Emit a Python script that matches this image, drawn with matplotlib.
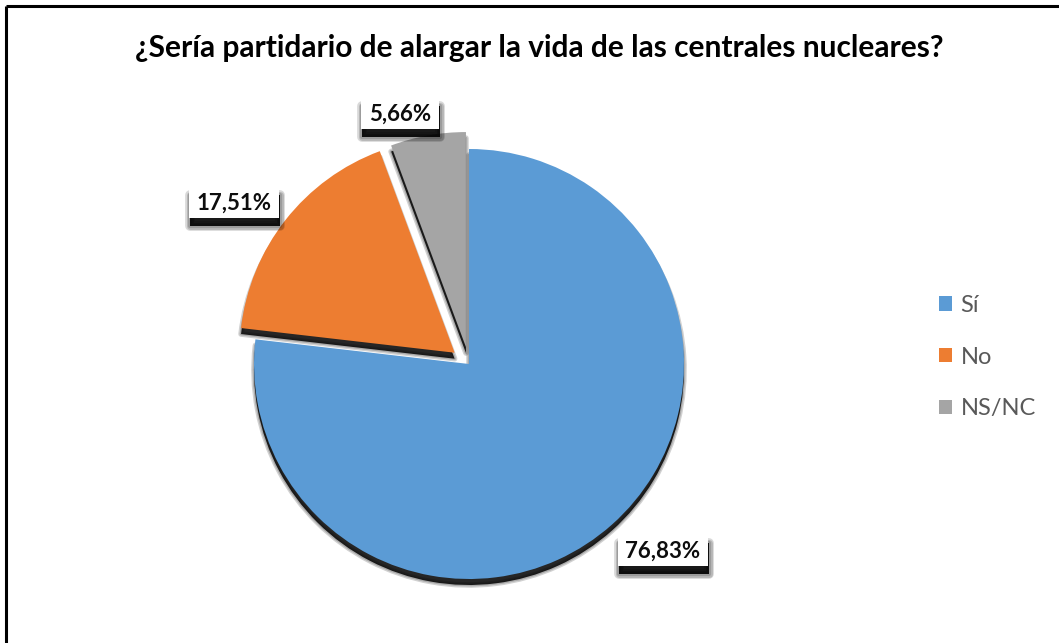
import matplotlib
matplotlib.use("Agg")
import matplotlib.pyplot as plt
from matplotlib.patches import PathPatch, Rectangle
from matplotlib.transforms import Affine2D
from matplotlib.lines import Line2D

# Survey answers
categories = ["Sí", "No", "NS/NC"]
shares = [76.83, 17.51, 5.66]
colors = ["#5B9BD5", "#ED7D31", "#A5A5A5"]
explode = [0.0, 0.085, 0.08]   # as a fraction of the radius
title = "¿Sería partidario de alargar la vida de las centrales nucleares?"

# Layout (canvas pixels, y measured from the top)
W, H = 1059, 643
pie_center = (469, 364)
pie_radius = 215
label_centers = [(663, 550), (234, 202), (400, 113)]

plt.rcParams["font.family"] = ["Lato", "DejaVu Sans"]

fig = plt.figure(figsize=(W / 100, H / 100), dpi=100)
ax = fig.add_axes([0, 0, 1, 1])

wedges, _ = ax.pie(
    shares, colors=colors, explode=[e * pie_radius for e in explode],
    startangle=90, counterclock=False,
    radius=pie_radius, center=(pie_center[0], H - pie_center[1]),
    wedgeprops=dict(linewidth=0), frame=True,
)
ax.set_aspect("auto")
ax.set_xlim(0, W)
ax.set_ylim(0, H)
ax.axis("off")


def soft_shadow(path, z, dx=0.0, dy=-6.0, core=0.85, widths=(4, 2), a=0.18):
    tr = Affine2D().translate(dx, dy) + ax.transData
    ax.add_patch(PathPatch(path, transform=tr, fc="k", ec="none", alpha=core, zorder=z))
    for lw in widths:
        ax.add_patch(PathPatch(path, transform=tr, fc="none", ec="k", lw=lw,
                               alpha=a, zorder=z, joinstyle="round"))


for i, w in enumerate(wedges):
    w.set_zorder(2 * i + 2)
    soft_shadow(w.get_path(), 2 * i + 1)

# Value labels: white boxes with a dark drop shadow
label_fs = 16
cap = 16
texts = []
for v, (lx, ly) in zip(shares, label_centers):
    s = f"{v:.2f}%".replace(".", ",")
    t = ax.text(lx, H - ly - cap / 2, s, ha="center", va="baseline",
                fontsize=label_fs, fontweight="bold", color="#0d0d0d", zorder=30)
    texts.append(t)

fig.canvas.draw()
renderer = fig.canvas.get_renderer()
for t, (lx, ly) in zip(texts, label_centers):
    bb = t.get_window_extent(renderer)
    bw = bb.width + 15
    bh = 31
    x0, y0 = lx - bw / 2, H - ly - bh / 2
    box = Rectangle((x0, y0), bw, bh)
    soft_shadow(box.get_path().transformed(box.get_patch_transform()), 28,
                dx=1, dy=-8, core=0.9, widths=(7, 5, 3), a=0.15)
    ax.add_patch(Rectangle((x0, y0), bw, bh, fc="white", ec="none", zorder=29))

# Legend
leg = ax.legend(
    wedges, categories, loc="center left",
    bbox_to_anchor=(930 / W, 1 - 357 / H), bbox_transform=fig.transFigure,
    frameon=False, fontsize=17, handlelength=0.55, handleheight=0.55,
    handletextpad=0.35, labelspacing=1.3, borderaxespad=0,
)
for txt in leg.get_texts():
    txt.set_color("#595959")
for h in leg.legend_handles:
    h.set_linewidth(0)

# Title
fig.text(539 / W, 1 - 48 / H, title, ha="center", va="center",
         fontsize=21.5, fontweight="bold", color="#000000")

# Outer frame (top and left edges)
fig.add_artist(Line2D([6 / W, 1], [1 - 6 / H, 1 - 6 / H], transform=fig.transFigure,
                      color="k", lw=2.2, solid_capstyle="butt"))
fig.add_artist(Line2D([6 / W, 6 / W], [0, 1 - 6 / H], transform=fig.transFigure,
                      color="k", lw=2.2, solid_capstyle="butt"))

fig.savefig("out.png", dpi=100)
